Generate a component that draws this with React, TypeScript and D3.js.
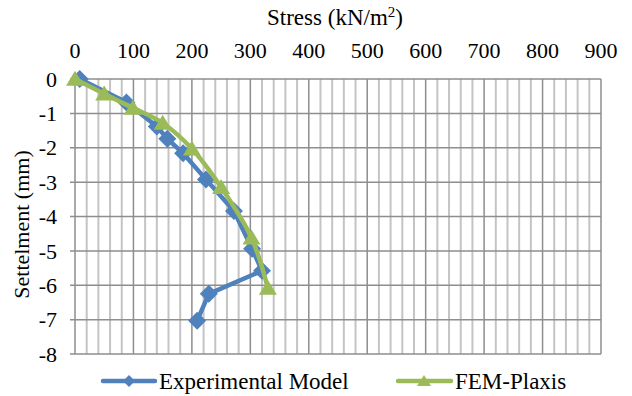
import React from 'react';
import * as d3 from 'd3';

const stressTicks = [0, 100, 200, 300, 400, 500, 600, 700, 800, 900];
const settleTicks = [0, -1, -2, -3, -4, -5, -6, -7, -8];

// Experimental Model: [stress kN/m2, settlement mm]
const expStress = [8, 88, 140, 158, 185, 224, 272, 303, 320, 229, 209];
const expSettle = [0, -0.68, -1.38, -1.74, -2.16, -2.92, -3.84, -4.94, -5.58, -6.25, -7.03];

// FEM-Plaxis
const femStress = [0, 50, 99, 150, 200, 250, 302, 330];
const femSettle = [0, -0.43, -0.84, -1.28, -2.03, -3.15, -4.62, -6.08];

const W = 632;
const H = 396;
const margin = { top: 79, right: 31, bottom: 42, left: 75 };

const BLUE = '#4F81BD';
const GREEN = '#9BBB59';
const FONT = "Liberation Serif, DejaVu Serif, serif";

const App = () => {
  const x = d3.scaleLinear().domain([0, 900]).range([margin.left, W - margin.right]);
  const y = d3.scaleLinear().domain([-8, 0]).range([H - margin.bottom, margin.top]);

  const minorX = d3.range(0, 901, 20);

  const expPts = expStress.map((s, i) => [s, expSettle[i]] as [number, number]);
  const femPts = femStress.map((s, i) => [s, femSettle[i]] as [number, number]);

  const lineLin = d3.line<[number, number]>().x(d => x(d[0])).y(d => y(d[1]));
  const lineSmooth = d3.line<[number, number]>().x(d => x(d[0])).y(d => y(d[1])).curve(d3.curveCatmullRom.alpha(0.5));

  const diamond = (cx: number, cy: number, r: number) =>
    `M${cx},${cy - r}L${cx + r},${cy}L${cx},${cy + r}L${cx - r},${cy}Z`;
  const triangle = (cx: number, cy: number, w: number, h: number) =>
    `M${cx},${cy - h * 0.55}L${cx + w},${cy + h * 0.45}L${cx - w},${cy + h * 0.45}Z`;

  const legY = 381;

  return (
    <svg width={W} height={H} style={{ position: 'absolute', left: 0, top: 0, background: '#fff' }}
      fontFamily={FONT} fontSize={22}>
      <rect width={W} height={H} fill="#fff" />
      {/* minor vertical grid */}
      {minorX.filter(v => v % 100 !== 0).map(v => (
        <line key={'mx' + v} x1={x(v)} x2={x(v)} y1={y(0)} y2={y(-8)} stroke="#C4C4C4" strokeWidth={2} />
      ))}
      {/* major vertical grid */}
      {stressTicks.map(v => (
        <line key={'vx' + v} x1={x(v)} x2={x(v)} y1={y(0)} y2={y(-8)} stroke="#8E8E8E" strokeWidth={1.5} />
      ))}
      {/* horizontal grid */}
      {settleTicks.map(v => (
        <line key={'hy' + v} x1={x(0) - 5} x2={x(900)} y1={y(v)} y2={y(v)} stroke="#8E8E8E" strokeWidth={1.5} />
      ))}

      {/* top axis labels */}
      {stressTicks.map(v => (
        <text key={'tx' + v} x={x(v)} y={58} textAnchor="middle">{v}</text>
      ))}
      <text x={x(450) - 3} y={25} textAnchor="middle" fontSize={23}>
        Stress (kN/m<tspan dy={-8} fontSize={15}>2</tspan><tspan dy={8}>)</tspan>
      </text>

      {/* left axis labels */}
      {settleTicks.map(v => (
        <text key={'ty' + v} x={57} y={y(v)} dy="0.35em" textAnchor="end">{v}</text>
      ))}
      <text transform={`translate(21,${(y(0) + y(-8)) / 2 + 8}) rotate(-90)`} textAnchor="middle" dy="0.35em" fontSize={22}>
        Settelment (mm)
      </text>

      {/* series */}
      <path d={lineLin(expPts) || ''} fill="none" stroke={BLUE} strokeWidth={4.5} strokeLinejoin="round" strokeLinecap="round" />
      {expPts.map((p, i) => (
        <path key={'ed' + i} d={diamond(x(p[0]), y(p[1]), 9)} fill={BLUE} />
      ))}
      <path d={lineSmooth(femPts) || ''} fill="none" stroke={GREEN} strokeWidth={4.5} strokeLinejoin="round" strokeLinecap="round" />
      {femPts.map((p, i) => (
        <path key={'ft' + i} d={triangle(x(p[0]), y(p[1]), 9, 15)} fill={GREEN} />
      ))}

      {/* legend */}
      <line x1={103} x2={155} y1={legY} y2={legY} stroke={BLUE} strokeWidth={4.5} strokeLinecap="round" />
      <path d={diamond(129, legY, 6)} fill={BLUE} />
      <text x={159} y={legY} dy="0.35em" fontSize={23}>Experimental Model</text>
      <line x1={398} x2={451} y1={legY} y2={legY} stroke={GREEN} strokeWidth={4.5} strokeLinecap="round" />
      <path d={triangle(424, legY, 7, 11)} fill={GREEN} />
      <text x={455} y={legY} dy="0.35em" fontSize={23}>FEM-Plaxis</text>
    </svg>
  );
};

export default App;
